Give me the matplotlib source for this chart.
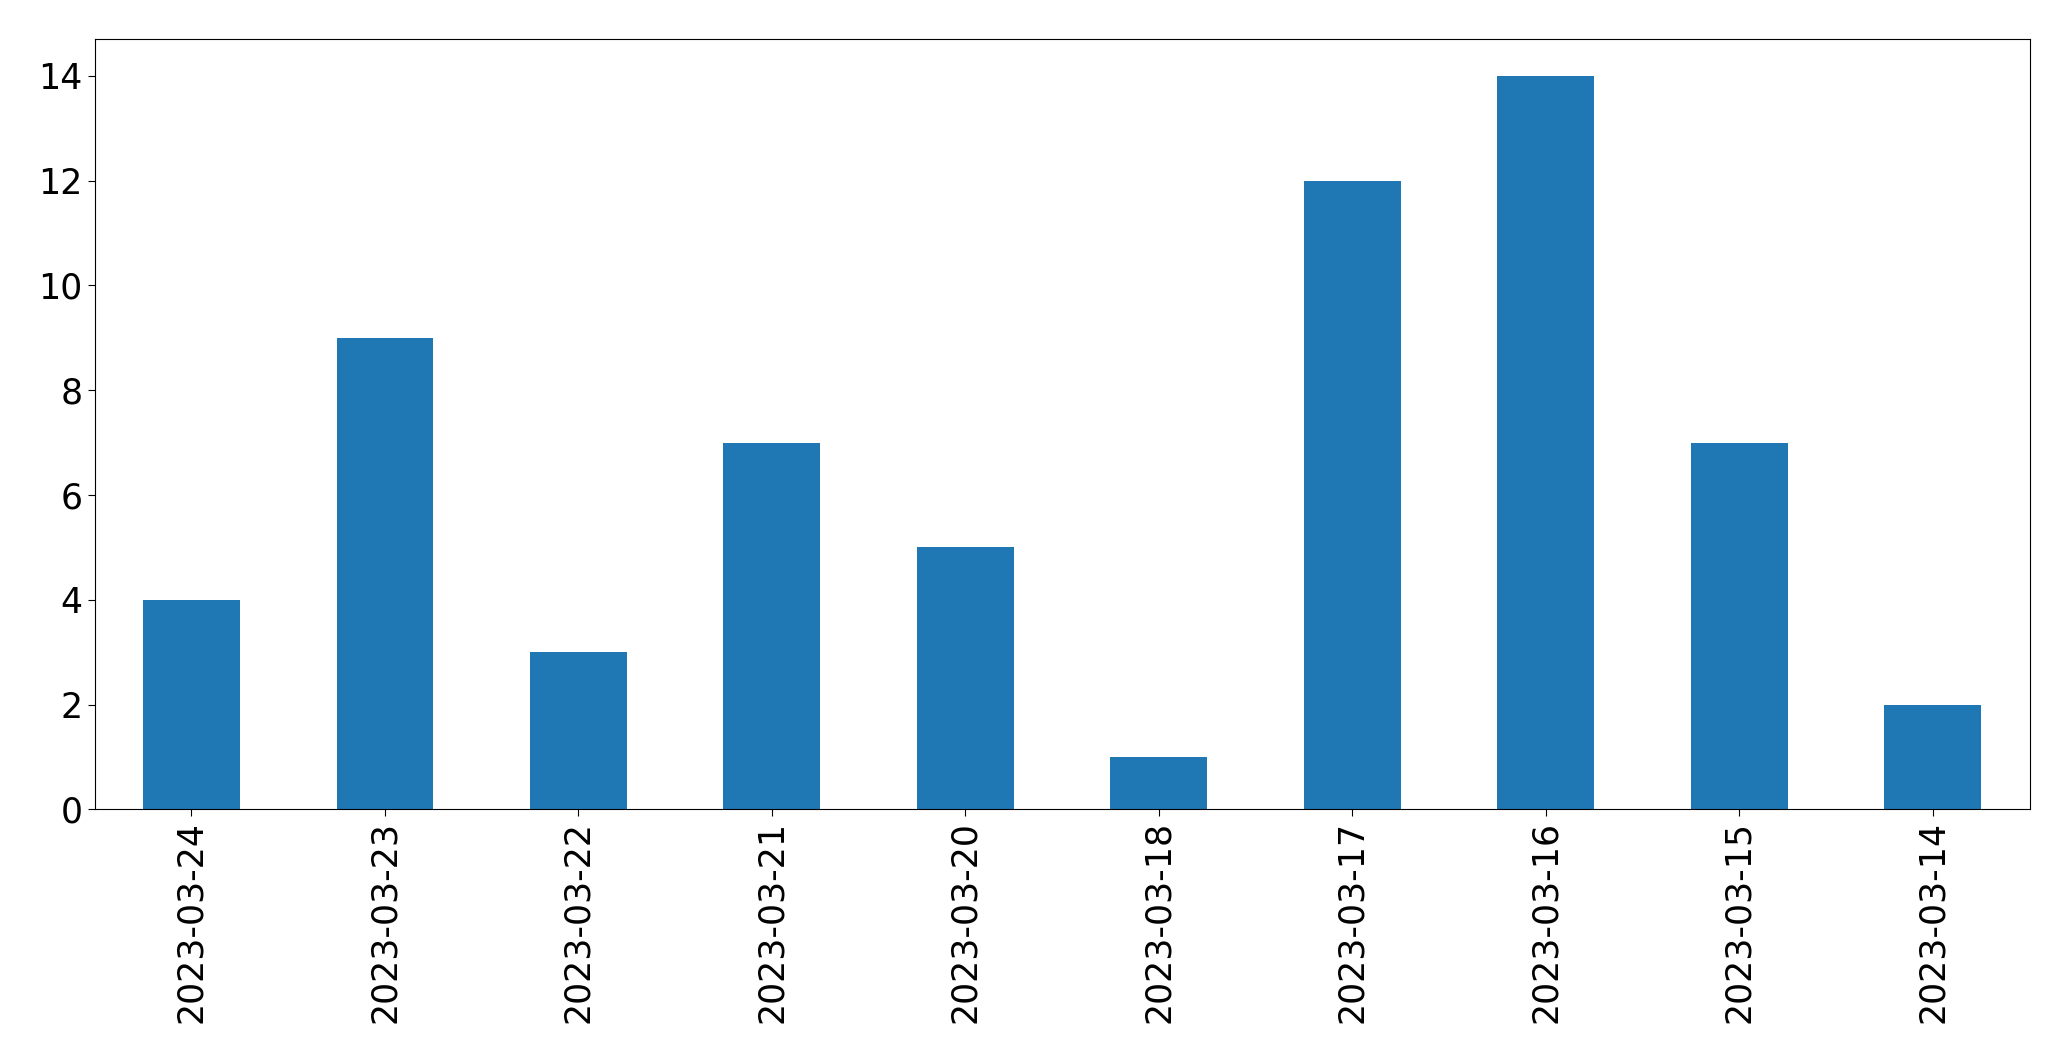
import matplotlib
matplotlib.use("Agg")
import matplotlib.pyplot as plt
import pandas as pd

# dates as they appear on the x axis (newest first)
dates = ['2023-03-24', '2023-03-23', '2023-03-22', '2023-03-21', '2023-03-20',
         '2023-03-18', '2023-03-17', '2023-03-16', '2023-03-15', '2023-03-14']
counts = [4, 9, 3, 7, 5, 1, 12, 14, 7, 2]

s = pd.Series(counts, index=dates)

fig = plt.figure(figsize=(20.71, 10.61), dpi=100)
ax = fig.add_axes([0.0457, 0.2372, 0.9343, 0.7258])

s.plot(kind='bar', ax=ax, color='#1f77b4', width=0.5)

ax.tick_params(axis='both', labelsize=25, length=5)
ax.set_xticklabels(dates, rotation=90)
ax.set_xlabel('')

fig.savefig('out.png', dpi=100)
